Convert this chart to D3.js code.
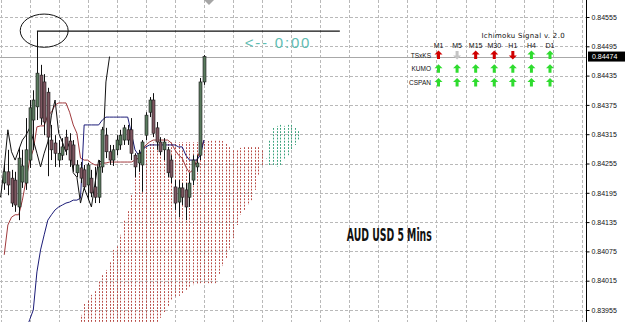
<!DOCTYPE html>
<html>
<head>
<meta charset="utf-8">
<script src="https://cdn.jsdelivr.net/npm/d3@7"></script>
<style>
  html, body { margin: 0; padding: 0; background: #fff; }
  svg { display: block; }
</style>
</head>
<body>
<svg id="chart" width="625" height="322"></svg>
<script>
'use strict';

// AUDUSD M5 bars, oldest first
const opens  = [0.84215,0.84238,0.84225,0.84221,0.84166,0.84217,0.84215,0.84262,0.84344,0.84371,
                0.84436,0.84422,0.84401,0.84303,0.84297,0.84262,0.84272,0.84309,0.84301,0.84293,
                0.84236,0.84246,0.84242,0.84211,0.84225,0.84207,0.84186,0.84248,0.84313,0.84279,
                0.84262,0.84283,0.84293,0.84303,0.84324,0.84324,0.84272,0.84256,0.84252,0.84313,
                0.84360,0.84385,0.84328,0.84299,0.84283,0.84283,0.84262,0.84207,0.84176,0.84205,
                0.84201,0.84186,0.84221,0.84248,0.84272,0.84422];
const highs  = [0.84252,0.84283,0.84242,0.84238,0.84287,0.84283,0.84348,0.84385,0.84405,0.84526,
                0.84457,0.84438,0.84410,0.84334,0.84313,0.84303,0.84307,0.84324,0.84317,0.84303,
                0.84262,0.84258,0.84252,0.84256,0.84242,0.84248,0.84262,0.84330,0.84328,0.84293,
                0.84293,0.84313,0.84324,0.84334,0.84334,0.84348,0.84276,0.84283,0.84303,0.84360,
                0.84391,0.84399,0.84340,0.84309,0.84307,0.84289,0.84272,0.84221,0.84221,0.84215,
                0.84215,0.84236,0.84272,0.84272,0.84430,0.84477];
const lows   = [0.84201,0.84190,0.84166,0.84156,0.84139,0.84205,0.84201,0.84246,0.84283,0.84344,
                0.84334,0.84313,0.84229,0.84262,0.84248,0.84248,0.84262,0.84272,0.84248,0.84238,
                0.84227,0.84215,0.84201,0.84180,0.84186,0.84174,0.84174,0.84236,0.84266,0.84252,
                0.84250,0.84272,0.84283,0.84293,0.84293,0.84262,0.84227,0.84238,0.84197,0.84303,
                0.84350,0.84309,0.84283,0.84272,0.84262,0.84227,0.84215,0.84160,0.84145,0.84170,
                0.84139,0.84166,0.84211,0.84238,0.84262,0.84416];
const closes = [0.84238,0.84211,0.84174,0.84170,0.84266,0.84250,0.84283,0.84369,0.84385,0.84440,
                0.84348,0.84340,0.84309,0.84283,0.84276,0.84276,0.84289,0.84283,0.84262,0.84252,
                0.84252,0.84225,0.84207,0.84252,0.84195,0.84186,0.84248,0.84324,0.84279,0.84262,
                0.84283,0.84303,0.84313,0.84328,0.84303,0.84276,0.84248,0.84276,0.84299,0.84354,
                0.84385,0.84317,0.84299,0.84279,0.84299,0.84236,0.84227,0.84174,0.84205,0.84186,
                0.84166,0.84215,0.84262,0.84256,0.84422,0.84474];

// Ichimoku lines, one value per bar
const tenkan = [0.84068,0.84129,0.84145,0.84150,0.84150,0.84180,0.84221,0.84262,0.84283,0.84330,
                0.84332,0.84332,0.84354,0.84360,0.84375,0.84379,0.84379,0.84379,0.84360,0.84334,
                0.84317,0.84266,0.84262,0.84262,0.84256,0.84252,0.84252,0.84256,0.84256,0.84258,
                0.84258,0.84258,0.84258,0.84258,0.84258,0.84258,0.84262,0.84266,0.84283,0.84293,
                0.84299,0.84303,0.84303,0.84303,0.84303,0.84303,0.84297,0.84283,0.84272,0.84266,
                0.84248,0.84236,0.84242,0.84262,0.84283,0.84303];
const kijun  = [0.83853,0.83863,0.83873,0.83883,0.83893,0.83904,0.83914,0.83935,0.83955,0.84033,
                0.84078,0.84109,0.84139,0.84150,0.84160,0.84166,0.84170,0.84174,0.84176,0.84180,
                0.84180,0.84184,0.84334,0.84334,0.84334,0.84334,0.84334,0.84344,0.84350,0.84350,
                0.84350,0.84350,0.84350,0.84350,0.84350,0.84317,0.84283,0.84272,0.84283,0.84289,
                0.84293,0.84293,0.84293,0.84293,0.84293,0.84293,0.84293,0.84293,0.84289,0.84289,
                0.84272,0.84262,0.84262,0.84262,0.84272,0.84303];
const chikouShift = 26;

// Kumo (Senkou span A / B), starting at bar kumoStart, running 26 bars ahead
const kumoStart = 19;
const spanA = [0.83771,0.83781,0.83791,0.83801,0.83812,0.83816,0.83822,0.83828,0.83832,0.83836,
               0.83842,0.83848,0.83853,0.83857,0.83863,0.83873,0.83883,0.83889,0.83893,0.83898,
               0.83904,0.83914,0.83924,0.83930,0.83939,0.83951,0.83963,0.83975,0.83982,0.83984,
               0.83988,0.83996,0.84002,0.84006,0.84008,0.84010,0.84010,0.84010,0.84010,0.84010,
               0.84027,0.84045,0.84061,0.84078,0.84102,0.84129,0.84150,0.84160,0.84170,0.84180,
               0.84201,0.84231,0.84252,0.84266,0.84303,0.84328,0.84332,0.84334,0.84332,0.84334,
               0.84334,0.84328,0.84324];
const spanB = [0.83893,0.83924,0.83945,0.83969,0.83975,0.83986,0.83996,0.84016,0.84027,0.84037,
               0.84053,0.84078,0.84088,0.84109,0.84139,0.84160,0.84190,0.84231,0.84262,0.84279,
               0.84291,0.84297,0.84299,0.84299,0.84299,0.84299,0.84299,0.84299,0.84299,0.84299,
               0.84299,0.84299,0.84299,0.84299,0.84299,0.84299,0.84299,0.84301,0.84303,0.84303,
               0.84303,0.84301,0.84297,0.84289,0.84283,0.84283,0.84287,0.84291,0.84291,0.84291,
               0.84291,0.84289,0.84283,0.84262,0.84252,0.84252,0.84248,0.84252,0.84262,0.84272,
               0.84283,0.84293,0.84303];

const priceTicks = [0.84555,0.84495,0.84435,0.84375,0.84315,0.84255,0.84195,0.84135,0.84075,0.84015,0.83955];
const lastPrice = 0.84474;

// drawn objects
const highLine = {fromBar: 9, toBar: 92.4, price: 0.84526};
const highMark = {bar: 11, price: 0.84527, barsWide: 6.6, priceTall: 0.00034};
const timeLabel = {bar: 66.2, price: 0.84492, text: '<-- 0:00'};
const pairLabel = {bar: 94.3, price: 0.84096, text: 'AUD USD 5 Mins'};

// Ichimoku Signal v. 2.0 panel
const timeframes = ['M1', 'M5', 'M15', 'M30', 'H1', 'H4', 'D1'];
const signalRows = ['TSxKS', 'KUMO', 'CSPAN'];
const tsxksSignal = ['redUp', 'greyDown', 'redUp', 'redUp', 'redDown', 'greenUp', 'greenUp'];
const kumoSignal  = ['greenUp', 'greenUp', 'greenUp', 'greenUp', 'greenUp', 'greenUp', 'greenUp'];
const cspanSignal = ['greenUp', 'greenUp', 'greenUp', 'greenUp', 'greenUp', 'greenUp', 'greenUp'];

const width = 625, height = 322;
const plotRight = 586;

const svg = d3.select('#chart');

const xScale = d3.scaleLinear()
  .domain([0, 55])
  .range([204 - 55 * 3.632, 204]);

const yScale = d3.scaleLinear()
  .domain([0.83955, 0.84555])
  .range([310, 17]);

svg.append('defs').append('clipPath')
  .attr('id', 'plot-clip')
  .append('rect')
  .attr('x', 0).attr('y', 0)
  .attr('width', plotRight).attr('height', height);

const plot = svg.append('g').attr('clip-path', 'url(#plot-clip)');

// grid
const gridBars = d3.range(-1, 160, 8);
plot.append('g').selectAll('line')
  .data(gridBars)
  .join('line')
  .attr('x1', d => Math.round(xScale(d)) + 0.5)
  .attr('x2', d => Math.round(xScale(d)) + 0.5)
  .attr('y1', 0).attr('y2', height)
  .attr('stroke', '#b9b9b9')
  .attr('stroke-dasharray', '3,2');

plot.append('g').selectAll('line')
  .data(priceTicks)
  .join('line')
  .attr('x1', 0).attr('x2', plotRight)
  .attr('y1', d => Math.round(yScale(d)) + 0.5)
  .attr('y2', d => Math.round(yScale(d)) + 0.5)
  .attr('stroke', '#b9b9b9')
  .attr('stroke-dasharray', '3,2');

// kumo, one dotted column per bar
const dotPeriod = 3.2;
const kumo = spanA.map((a, j) => ({bar: kumoStart + j, a: a, b: spanB[j]}));
plot.append('g').selectAll('line')
  .data(kumo)
  .join('line')
  .attr('x1', d => Math.round(xScale(d.bar)) + 0.5)
  .attr('x2', d => Math.round(xScale(d.bar)) + 0.5)
  .attr('y1', d => yScale(Math.max(d.a, d.b)))
  .attr('y2', d => yScale(Math.min(d.a, d.b)))
  .attr('stroke', d => d.a > d.b ? '#3aa27c' : '#b84a44')
  .attr('stroke-width', 1)
  .attr('stroke-dasharray', '1.8,' + (dotPeriod - 1.8))
  .attr('stroke-dashoffset', d => yScale(Math.max(d.a, d.b)) % dotPeriod);

// current price line
plot.append('line')
  .attr('x1', 0).attr('x2', plotRight)
  .attr('y1', Math.round(yScale(lastPrice)) + 0.5)
  .attr('y2', Math.round(yScale(lastPrice)) + 0.5)
  .attr('stroke', '#a8a8a8');

// Tenkan, Kijun, Chikou
const line = d3.line()
  .x(d => xScale(d.bar))
  .y(d => yScale(d.v));

plot.append('path')
  .datum(tenkan.map((v, i) => ({bar: i, v: v})))
  .attr('d', line)
  .attr('fill', 'none')
  .attr('stroke', '#a0393c')
  .attr('stroke-width', 1);

plot.append('path')
  .datum(kijun.map((v, i) => ({bar: i, v: v})))
  .attr('d', line)
  .attr('fill', 'none')
  .attr('stroke', '#1c1c78')
  .attr('stroke-width', 1);

plot.append('path')
  .datum(closes.map((v, i) => ({bar: i - chikouShift, v: v})))
  .attr('d', line)
  .attr('fill', 'none')
  .attr('stroke', '#111')
  .attr('stroke-width', 1);

// candles
const candles = closes.map((c, i) => ({bar: i, o: opens[i], h: highs[i], l: lows[i], c: c}));
const candleG = plot.append('g').selectAll('g')
  .data(candles)
  .join('g');

candleG.append('line')
  .attr('x1', d => Math.round(xScale(d.bar)) + 0.5)
  .attr('x2', d => Math.round(xScale(d.bar)) + 0.5)
  .attr('y1', d => yScale(d.h))
  .attr('y2', d => yScale(d.l))
  .attr('stroke', '#111');

candleG.append('rect')
  .attr('x', d => Math.round(xScale(d.bar)) - 1)
  .attr('y', d => yScale(Math.max(d.o, d.c)))
  .attr('width', 3)
  .attr('height', d => Math.max(1, Math.abs(yScale(d.o) - yScale(d.c))))
  .attr('fill', d => d.c >= d.o ? '#5a7a5e' : '#7e5660')
  .attr('stroke', '#1a1a1a')
  .attr('stroke-width', 0.6);

// high marker: horizontal line + ellipse
plot.append('line')
  .attr('x1', xScale(highLine.fromBar))
  .attr('x2', xScale(highLine.toBar))
  .attr('y1', yScale(highLine.price))
  .attr('y2', yScale(highLine.price))
  .attr('stroke', '#111')
  .attr('stroke-width', 1.3);

plot.append('ellipse')
  .attr('cx', xScale(highMark.bar))
  .attr('cy', yScale(highMark.price))
  .attr('rx', xScale(highMark.barsWide) - xScale(0))
  .attr('ry', yScale(0) - yScale(highMark.priceTall))
  .attr('fill', 'none')
  .attr('stroke', '#111')
  .attr('stroke-width', 1);

plot.append('text')
  .attr('x', xScale(timeLabel.bar))
  .attr('y', yScale(timeLabel.price))
  .attr('font-family', 'Liberation Sans, Arial, sans-serif')
  .attr('font-size', 15)
  .attr('letter-spacing', 1.8)
  .attr('fill', '#5fbdb3')
  .text(timeLabel.text);

plot.append('text')
  .attr('x', xScale(pairLabel.bar))
  .attr('y', yScale(pairLabel.price))
  .attr('font-family', 'DejaVu Sans, sans-serif')
  .attr('font-weight', 'bold')
  .attr('font-size', 17)
  .attr('textLength', 85)
  .attr('lengthAdjust', 'spacingAndGlyphs')
  .attr('fill', '#111')
  .text(pairLabel.text);

// chart shift marker
svg.append('path')
  .attr('d', 'M204,0 L214,0 L209,5 Z')
  .attr('fill', '#a5a5a5');

// signal panel
const colX = d3.scalePoint().domain(timeframes).range([438.5, 550]);
const rowY = d3.scalePoint().domain(signalRows).range([55, 82.5]);
const panel = svg.append('g');

panel.append('text')
  .attr('x', 481.5).attr('y', 38)
  .attr('font-family', 'DejaVu Sans, sans-serif')
  .attr('font-size', 7)
  .attr('letter-spacing', 0.3)
  .attr('fill', '#111')
  .text('Ichimoku Signal v. 2.0');

panel.append('g').selectAll('text')
  .data(timeframes)
  .join('text')
  .attr('x', d => colX(d))
  .attr('y', 47.5)
  .attr('text-anchor', 'middle')
  .attr('font-family', 'Liberation Sans, Arial, sans-serif')
  .attr('font-size', 7)
  .attr('fill', '#111')
  .text(d => d);

panel.append('g').selectAll('text')
  .data(signalRows)
  .join('text')
  .attr('x', 431)
  .attr('y', d => rowY(d) + 2.5)
  .attr('text-anchor', 'end')
  .attr('font-family', 'Liberation Sans, Arial, sans-serif')
  .attr('font-size', 6.5)
  .attr('fill', '#111')
  .text(d => d);

const signalColors = {redUp: '#d00000', redDown: '#d00000', greenUp: '#2fdc2f', greyDown: '#c4c4c4'};
function arrowPath(cx, cy, up) {
  const s = up ? 1 : -1;
  const pts = [[0, -4.5], [4, -0.5], [1.5, -0.5], [1.5, 4], [-1.5, 4], [-1.5, -0.5], [-4, -0.5]];
  return 'M' + pts.map(p => [cx + p[0], cy + s * p[1]].join(',')).join('L') + 'Z';
}
const signalCells = [];
[tsxksSignal, kumoSignal, cspanSignal].forEach((row, r) => {
  row.forEach((sig, c) => signalCells.push({row: signalRows[r], tf: timeframes[c], sig: sig}));
});
panel.append('g').selectAll('path')
  .data(signalCells)
  .join('path')
  .attr('d', d => arrowPath(colX(d.tf), rowY(d.row), d.sig.endsWith('Up')))
  .attr('fill', d => signalColors[d.sig]);

// price scale
svg.append('line')
  .attr('x1', plotRight + 0.5).attr('x2', plotRight + 0.5)
  .attr('y1', 0).attr('y2', height)
  .attr('stroke', '#000');

const yAxis = d3.axisRight(yScale)
  .tickValues(priceTicks)
  .tickSize(3)
  .tickSizeOuter(0)
  .tickFormat(d3.format('.5f'));

const axisG = svg.append('g')
  .attr('transform', `translate(${plotRight + 0.5}, 0)`)
  .call(yAxis);
axisG.select('.domain').remove();
axisG.selectAll('text')
  .attr('font-family', 'Liberation Sans, Arial, sans-serif')
  .attr('font-size', 7)
  .attr('fill', '#111')
  .attr('x', 5);

const tag = svg.append('g')
  .attr('transform', `translate(588, ${yScale(lastPrice)})`);
tag.append('rect')
  .attr('x', 0).attr('y', -5)
  .attr('width', 37).attr('height', 10)
  .attr('fill', '#000');
tag.append('text')
  .attr('x', 4).attr('y', 2.5)
  .attr('font-family', 'Liberation Sans, Arial, sans-serif')
  .attr('font-size', 7)
  .attr('fill', '#fff')
  .text(d3.format('.5f')(lastPrice));
</script>
</body>
</html>
